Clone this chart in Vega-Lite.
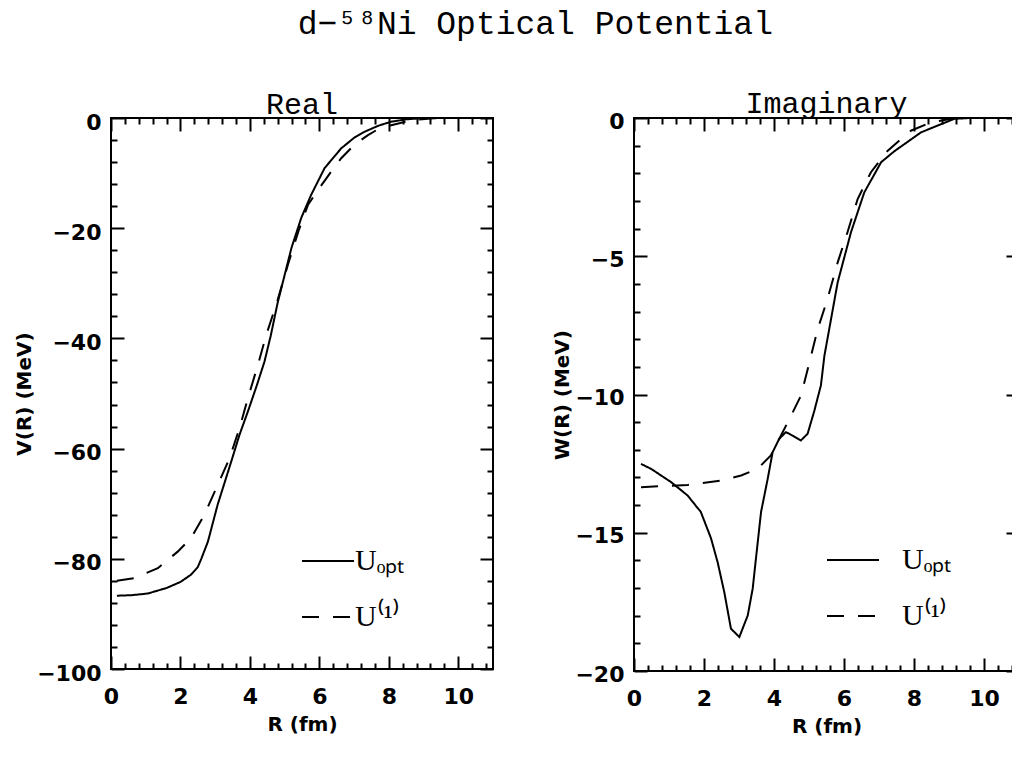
{
  "$schema": "https://vega.github.io/schema/vega-lite/v6.json",
  "padding": {"left": 13, "top": 8, "right": 0, "bottom": 0},
  "background": "white",
  "title": {"text": "d−⁵⁸Ni Optical Potential", "font": "Liberation Mono, DejaVu Sans Mono", "fontSize": 33, "fontWeight": "normal", "anchor": "middle", "dx": 18, "offset": 47, "color": "black"},
  "data": {"values": [
    {"p": "Real", "s": "Uₒₚₜ", "r": 0.17, "v": -86.7},
    {"p": "Real", "s": "Uₒₚₜ", "r": 0.6, "v": -86.6},
    {"p": "Real", "s": "Uₒₚₜ", "r": 1.06, "v": -86.3},
    {"p": "Real", "s": "Uₒₚₜ", "r": 1.6, "v": -85.3},
    {"p": "Real", "s": "Uₒₚₜ", "r": 2.0, "v": -84.2},
    {"p": "Real", "s": "Uₒₚₜ", "r": 2.3, "v": -82.9},
    {"p": "Real", "s": "Uₒₚₜ", "r": 2.5, "v": -81.5},
    {"p": "Real", "s": "Uₒₚₜ", "r": 2.6, "v": -80.0},
    {"p": "Real", "s": "Uₒₚₜ", "r": 2.79, "v": -76.9},
    {"p": "Real", "s": "Uₒₚₜ", "r": 3.07, "v": -70.2},
    {"p": "Real", "s": "Uₒₚₜ", "r": 3.46, "v": -62.4},
    {"p": "Real", "s": "Uₒₚₜ", "r": 3.7, "v": -57.5},
    {"p": "Real", "s": "Uₒₚₜ", "r": 3.94, "v": -53.3},
    {"p": "Real", "s": "Uₒₚₜ", "r": 4.2, "v": -48.5},
    {"p": "Real", "s": "Uₒₚₜ", "r": 4.42, "v": -44.2},
    {"p": "Real", "s": "Uₒₚₜ", "r": 4.6, "v": -39.5},
    {"p": "Real", "s": "Uₒₚₜ", "r": 4.8, "v": -33.5},
    {"p": "Real", "s": "Uₒₚₜ", "r": 5.0, "v": -28.5},
    {"p": "Real", "s": "Uₒₚₜ", "r": 5.2, "v": -23.5},
    {"p": "Real", "s": "Uₒₚₜ", "r": 5.48, "v": -18.1},
    {"p": "Real", "s": "Uₒₚₜ", "r": 5.76, "v": -14.0},
    {"p": "Real", "s": "Uₒₚₜ", "r": 6.15, "v": -9.1},
    {"p": "Real", "s": "Uₒₚₜ", "r": 6.63, "v": -5.5},
    {"p": "Real", "s": "Uₒₚₜ", "r": 7.0, "v": -3.6},
    {"p": "Real", "s": "Uₒₚₜ", "r": 7.3, "v": -2.5},
    {"p": "Real", "s": "Uₒₚₜ", "r": 7.7, "v": -1.4},
    {"p": "Real", "s": "Uₒₚₜ", "r": 8.07, "v": -0.67},
    {"p": "Real", "s": "Uₒₚₜ", "r": 8.5, "v": -0.25},
    {"p": "Real", "s": "Uₒₚₜ", "r": 9.0, "v": 0.0},
    {"p": "Real", "s": "Uₒₚₜ", "r": 9.5, "v": 0.05},
    {"p": "Real", "s": "Uₒₚₜ", "r": 10.0, "v": 0.0},
    {"p": "Real", "s": "U⁽¹⁾", "r": 0.17, "v": -84.0},
    {"p": "Real", "s": "U⁽¹⁾", "r": 0.67, "v": -83.5},
    {"p": "Real", "s": "U⁽¹⁾", "r": 1.35, "v": -81.7},
    {"p": "Real", "s": "U⁽¹⁾", "r": 1.92, "v": -78.7},
    {"p": "Real", "s": "U⁽¹⁾", "r": 2.3, "v": -76.3},
    {"p": "Real", "s": "U⁽¹⁾", "r": 2.69, "v": -72.0},
    {"p": "Real", "s": "U⁽¹⁾", "r": 3.03, "v": -67.2},
    {"p": "Real", "s": "U⁽¹⁾", "r": 3.41, "v": -61.8},
    {"p": "Real", "s": "U⁽¹⁾", "r": 3.7, "v": -56.3},
    {"p": "Real", "s": "U⁽¹⁾", "r": 3.94, "v": -50.9},
    {"p": "Real", "s": "U⁽¹⁾", "r": 4.23, "v": -44.8},
    {"p": "Real", "s": "U⁽¹⁾", "r": 4.47, "v": -39.4},
    {"p": "Real", "s": "U⁽¹⁾", "r": 4.8, "v": -33.0},
    {"p": "Real", "s": "U⁽¹⁾", "r": 5.1, "v": -26.5},
    {"p": "Real", "s": "U⁽¹⁾", "r": 5.4, "v": -20.5},
    {"p": "Real", "s": "U⁽¹⁾", "r": 5.67, "v": -15.8},
    {"p": "Real", "s": "U⁽¹⁾", "r": 5.9, "v": -13.6},
    {"p": "Real", "s": "U⁽¹⁾", "r": 6.15, "v": -11.4},
    {"p": "Real", "s": "U⁽¹⁾", "r": 6.4, "v": -9.2},
    {"p": "Real", "s": "U⁽¹⁾", "r": 6.63, "v": -7.3},
    {"p": "Real", "s": "U⁽¹⁾", "r": 7.0, "v": -4.9},
    {"p": "Real", "s": "U⁽¹⁾", "r": 7.4, "v": -3.1},
    {"p": "Real", "s": "U⁽¹⁾", "r": 7.7, "v": -2.0},
    {"p": "Real", "s": "U⁽¹⁾", "r": 8.07, "v": -1.3},
    {"p": "Real", "s": "U⁽¹⁾", "r": 8.65, "v": -0.4},
    {"p": "Real", "s": "U⁽¹⁾", "r": 9.3, "v": -0.05},
    {"p": "Real", "s": "U⁽¹⁾", "r": 10.0, "v": 0.0},
    {"p": "Imag", "s": "Uₒₚₜ", "r": 0.2, "v": -12.51},
    {"p": "Imag", "s": "Uₒₚₜ", "r": 0.49, "v": -12.69},
    {"p": "Imag", "s": "Uₒₚₜ", "r": 1.06, "v": -13.17},
    {"p": "Imag", "s": "Uₒₚₜ", "r": 1.53, "v": -13.65},
    {"p": "Imag", "s": "Uₒₚₜ", "r": 1.91, "v": -14.25},
    {"p": "Imag", "s": "Uₒₚₜ", "r": 2.2, "v": -15.2},
    {"p": "Imag", "s": "Uₒₚₜ", "r": 2.39, "v": -16.07},
    {"p": "Imag", "s": "Uₒₚₜ", "r": 2.58, "v": -17.15},
    {"p": "Imag", "s": "Uₒₚₜ", "r": 2.77, "v": -18.47},
    {"p": "Imag", "s": "Uₒₚₜ", "r": 3.01, "v": -18.77},
    {"p": "Imag", "s": "Uₒₚₜ", "r": 3.25, "v": -17.99},
    {"p": "Imag", "s": "Uₒₚₜ", "r": 3.39, "v": -17.03},
    {"p": "Imag", "s": "Uₒₚₜ", "r": 3.53, "v": -15.4},
    {"p": "Imag", "s": "Uₒₚₜ", "r": 3.63, "v": -14.25},
    {"p": "Imag", "s": "Uₒₚₜ", "r": 3.82, "v": -13.05},
    {"p": "Imag", "s": "Uₒₚₜ", "r": 3.96, "v": -12.09},
    {"p": "Imag", "s": "Uₒₚₜ", "r": 4.15, "v": -11.6},
    {"p": "Imag", "s": "Uₒₚₜ", "r": 4.34, "v": -11.36},
    {"p": "Imag", "s": "Uₒₚₜ", "r": 4.55, "v": -11.5},
    {"p": "Imag", "s": "Uₒₚₜ", "r": 4.77, "v": -11.66},
    {"p": "Imag", "s": "Uₒₚₜ", "r": 4.96, "v": -11.42},
    {"p": "Imag", "s": "Uₒₚₜ", "r": 5.15, "v": -10.6},
    {"p": "Imag", "s": "Uₒₚₜ", "r": 5.34, "v": -9.67},
    {"p": "Imag", "s": "Uₒₚₜ", "r": 5.44, "v": -8.6},
    {"p": "Imag", "s": "Uₒₚₜ", "r": 5.82, "v": -5.94},
    {"p": "Imag", "s": "Uₒₚₜ", "r": 6.2, "v": -4.13},
    {"p": "Imag", "s": "Uₒₚₜ", "r": 6.58, "v": -2.69},
    {"p": "Imag", "s": "Uₒₚₜ", "r": 7.06, "v": -1.6},
    {"p": "Imag", "s": "Uₒₚₜ", "r": 7.44, "v": -1.2},
    {"p": "Imag", "s": "Uₒₚₜ", "r": 8.2, "v": -0.52},
    {"p": "Imag", "s": "Uₒₚₜ", "r": 9.15, "v": -0.03},
    {"p": "Imag", "s": "Uₒₚₜ", "r": 9.6, "v": 0.0},
    {"p": "Imag", "s": "U⁽¹⁾", "r": 0.2, "v": -13.35},
    {"p": "Imag", "s": "U⁽¹⁾", "r": 1.53, "v": -13.27},
    {"p": "Imag", "s": "U⁽¹⁾", "r": 2.49, "v": -13.11},
    {"p": "Imag", "s": "U⁽¹⁾", "r": 3.06, "v": -12.93},
    {"p": "Imag", "s": "U⁽¹⁾", "r": 3.53, "v": -12.69},
    {"p": "Imag", "s": "U⁽¹⁾", "r": 3.91, "v": -12.2},
    {"p": "Imag", "s": "U⁽¹⁾", "r": 4.2, "v": -11.48},
    {"p": "Imag", "s": "U⁽¹⁾", "r": 4.49, "v": -10.76},
    {"p": "Imag", "s": "U⁽¹⁾", "r": 4.77, "v": -10.04},
    {"p": "Imag", "s": "U⁽¹⁾", "r": 5.0, "v": -8.9},
    {"p": "Imag", "s": "U⁽¹⁾", "r": 5.25, "v": -7.63},
    {"p": "Imag", "s": "U⁽¹⁾", "r": 5.53, "v": -6.54},
    {"p": "Imag", "s": "U⁽¹⁾", "r": 5.82, "v": -5.22},
    {"p": "Imag", "s": "U⁽¹⁾", "r": 6.1, "v": -4.13},
    {"p": "Imag", "s": "U⁽¹⁾", "r": 6.39, "v": -2.93},
    {"p": "Imag", "s": "U⁽¹⁾", "r": 6.77, "v": -1.96},
    {"p": "Imag", "s": "U⁽¹⁾", "r": 7.25, "v": -1.18},
    {"p": "Imag", "s": "U⁽¹⁾", "r": 7.91, "v": -0.46},
    {"p": "Imag", "s": "U⁽¹⁾", "r": 8.5, "v": -0.15},
    {"p": "Imag", "s": "U⁽¹⁾", "r": 9.2, "v": 0.0}
  ]},
  "hconcat": [
    {
      "width": 382, "height": 551,
      "title": {"text": "Real", "font": "Liberation Mono, DejaVu Sans Mono", "fontSize": 30, "fontWeight": "normal", "anchor": "middle", "offset": -9, "color": "black"},
      "transform": [{"filter": "datum.p === 'Real'"}],
      "layer": [
        {"mark": {"type": "line", "color": "black", "strokeWidth": 2, "clip": true},
         "encoding": {
           "x": {"field": "r", "type": "quantitative", "scale": {"domain": [0, 11], "nice": false, "zero": false},
                 "axis": {"orient": "bottom", "values": [0, 2, 4, 6, 8, 10], "tickSize": -13, "title": "R (fm)"}},
           "y": {"field": "v", "type": "quantitative", "scale": {"domain": [-100, 0], "nice": false, "zero": false},
                 "axis": {"orient": "left", "values": [-100, -80, -60, -40, -20, 0], "tickSize": -13, "labelOffset": 4, "title": "V(R) (MeV)"}},
           "strokeDash": {"field": "s", "type": "nominal", "scale": {"domain": ["Uₒₚₜ", "U⁽¹⁾"], "range": [[1, 0], [17, 14]]},
                 "legend": {"orient": "none", "legendX": 190, "legendY": 416, "labelOffset": 0}}
         }},
        {"mark": {"type": "line", "opacity": 0},
         "encoding": {
           "x": {"field": "r", "type": "quantitative", "axis": {"orient": "bottom", "values": [0.4,0.8,1.2,1.6,2.4,2.8,3.2,3.6,4.4,4.8,5.2,5.6,6.4,6.8,7.2,7.6,8.4,8.8,9.2,9.6,10.4,10.8], "tickSize": -6, "labels": false, "title": null}},
           "y": {"field": "v", "type": "quantitative", "axis": {"orient": "left", "values": [-96,-92,-88,-84,-76,-72,-68,-64,-56,-52,-48,-44,-36,-32,-28,-24,-16,-12,-8,-4], "tickSize": -6, "labels": false, "title": null}}
         }},
        {"mark": {"type": "line", "opacity": 0},
         "encoding": {
           "x": {"field": "r", "type": "quantitative", "axis": {"orient": "top", "values": [0, 2, 4, 6, 8, 10], "tickSize": -13, "labels": false, "title": null}},
           "y": {"field": "v", "type": "quantitative", "axis": {"orient": "right", "values": [-100, -80, -60, -40, -20, 0], "tickSize": -13, "labels": false, "title": null}}
         }},
        {"mark": {"type": "line", "opacity": 0},
         "encoding": {
           "x": {"field": "r", "type": "quantitative", "axis": {"orient": "top", "values": [0.4,0.8,1.2,1.6,2.4,2.8,3.2,3.6,4.4,4.8,5.2,5.6,6.4,6.8,7.2,7.6,8.4,8.8,9.2,9.6,10.4,10.8], "tickSize": -6, "labels": false, "title": null}},
           "y": {"field": "v", "type": "quantitative", "axis": {"orient": "right", "values": [-96,-92,-88,-84,-76,-72,-68,-64,-56,-52,-48,-44,-36,-32,-28,-24,-16,-12,-8,-4], "tickSize": -6, "labels": false, "title": null}}
         }}
      ],
      "resolve": {"axis": {"x": "independent", "y": "independent"}}
    },
    {
      "width": 385, "height": 553,
      "title": {"text": "Imaginary", "font": "Liberation Mono, DejaVu Sans Mono", "fontSize": 30, "fontWeight": "normal", "anchor": "middle", "offset": -9, "color": "black"},
      "transform": [{"filter": "datum.p === 'Imag'"}],
      "layer": [
        {"mark": {"type": "line", "color": "black", "strokeWidth": 2, "clip": true},
         "encoding": {
           "x": {"field": "r", "type": "quantitative", "scale": {"domain": [0, 11], "nice": false, "zero": false},
                 "axis": {"orient": "bottom", "values": [0, 2, 4, 6, 8, 10], "tickSize": -13, "title": "R (fm)"}},
           "y": {"field": "v", "type": "quantitative", "scale": {"domain": [-20, 0], "nice": false, "zero": false},
                 "axis": {"orient": "left", "values": [-20, -15, -10, -5, 0], "tickSize": -13, "labelOffset": 3, "title": "W(R) (MeV)"}},
           "strokeDash": {"field": "s", "type": "nominal", "scale": {"domain": ["Uₒₚₜ", "U⁽¹⁾"], "range": [[1, 0], [17, 14]]},
                 "legend": {"orient": "none", "legendX": 192, "legendY": 415, "labelOffset": 22}}
         }},
        {"mark": {"type": "line", "opacity": 0},
         "encoding": {
           "x": {"field": "r", "type": "quantitative", "axis": {"orient": "bottom", "values": [0.4,0.8,1.2,1.6,2.4,2.8,3.2,3.6,4.4,4.8,5.2,5.6,6.4,6.8,7.2,7.6,8.4,8.8,9.2,9.6,10.4,10.8], "tickSize": -6, "labels": false, "title": null}},
           "y": {"field": "v", "type": "quantitative", "axis": {"orient": "left", "values": [-19,-18,-17,-16,-14,-13,-12,-11,-9,-8,-7,-6,-4,-3,-2,-1], "tickSize": -6, "labels": false, "title": null}}
         }},
        {"mark": {"type": "line", "opacity": 0},
         "encoding": {
           "x": {"field": "r", "type": "quantitative", "axis": {"orient": "top", "values": [0, 2, 4, 6, 8, 10], "tickSize": -13, "labels": false, "title": null}},
           "y": {"field": "v", "type": "quantitative", "axis": {"orient": "right", "values": [-20, -15, -10, -5, 0], "tickSize": -13, "labels": false, "title": null}}
         }},
        {"mark": {"type": "line", "opacity": 0},
         "encoding": {
           "x": {"field": "r", "type": "quantitative", "axis": {"orient": "top", "values": [0.4,0.8,1.2,1.6,2.4,2.8,3.2,3.6,4.4,4.8,5.2,5.6,6.4,6.8,7.2,7.6,8.4,8.8,9.2,9.6,10.4,10.8], "tickSize": -6, "labels": false, "title": null}},
           "y": {"field": "v", "type": "quantitative", "axis": {"orient": "right", "values": [-19,-18,-17,-16,-14,-13,-12,-11,-9,-8,-7,-6,-4,-3,-2,-1], "tickSize": -6, "labels": false, "title": null}}
         }}
      ],
      "resolve": {"axis": {"x": "independent", "y": "independent"}}
    }
  ],
  "spacing": 141,
  "bounds": "flush",
  "resolve": {"scale": {"strokeDash": "independent"}, "legend": {"strokeDash": "independent"}},
  "config": {
    "view": {"stroke": "black", "strokeWidth": 2},
    "axis": {"domain": false, "grid": false, "tickColor": "black", "tickWidth": 2, "labelColor": "black", "labelFont": "DejaVu Sans", "labelFontWeight": "bold", "labelFontSize": 22, "titleColor": "black", "titleFont": "DejaVu Sans", "titleFontWeight": "bold", "titleFontSize": 20, "labelFlush": false, "labelOverlap": false},
    "axisY": {"titlePadding": 2, "labelPadding": 23},
    "axisX": {"titlePadding": 7, "labelPadding": 30},
    "legend": {"title": null, "symbolType": "stroke", "symbolSize": 2704, "symbolStrokeWidth": 2, "symbolStrokeColor": "black", "labelFont": "Liberation Serif", "labelFontSize": 30, "labelColor": "black", "rowPadding": 14, "labelLimit": 300}
  }
}
